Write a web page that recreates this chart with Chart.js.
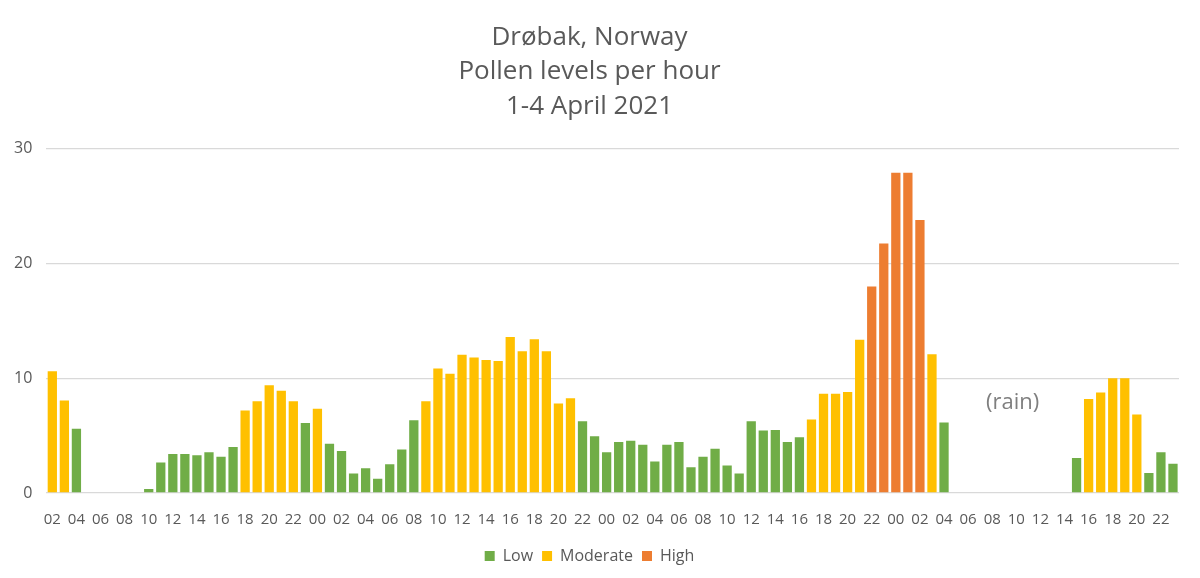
<!DOCTYPE html>
<html>
<head>
<meta charset="utf-8">
<script src="https://cdn.jsdelivr.net/npm/chart.js@4.4.1/dist/chart.umd.min.js"></script>
<style>
html,body{margin:0;padding:0;background:#fff}
#wrap{width:1200px;height:578px}
</style>
</head>
<body>
<div id="wrap"><canvas id="PollenChart" width="1200" height="578"></canvas></div>
<script>
// hour of day for each bar, 1 April 02:00 .. 4 April 23:00
let HOURS=[
'02','03','04','05','06','07','08','09','10','11','12','13','14','15','16','17','18','19','20','21','22','23',
'00','01','02','03','04','05','06','07','08','09','10','11','12','13','14','15','16','17','18','19','20','21','22','23',
'00','01','02','03','04','05','06','07','08','09','10','11','12','13','14','15','16','17','18','19','20','21','22','23',
'00','01','02','03','04','05','06','07','08','09','10','11','12','13','14','15','16','17','18','19','20','21','22','23'
]

// pollen count per hour
let POLLEN=[
10.6,8.05,5.6,0,0,0,0,0,0.35,2.65,3.4,3.4,3.3,3.55,3.15,4.0,7.2,8.0,9.4,8.9,8.0,6.1,
7.35,4.3,3.65,1.7,2.15,1.25,2.5,3.8,6.35,8.0,10.85,10.4,12.05,11.8,11.6,11.5,13.6,12.35,13.4,12.35,7.8,8.25,6.25,4.95,
3.55,4.45,4.55,4.2,2.75,4.2,4.45,2.25,3.15,3.85,2.4,1.7,6.25,5.45,5.5,4.45,4.85,6.4,8.65,8.65,8.8,13.35,18.0,21.75,
27.9,27.9,23.8,12.1,6.15,0,0,0,0,0,0,0,0,0,0,3.05,8.2,8.75,10.0,10.0,6.85,1.75,3.55,2.55
]

// level of each hour: L low, M moderate, H high, - nothing measured
let LEVEL=[
'M','M','L','-','-','-','-','-','L','L','L','L','L','L','L','L','M','M','M','M','M','L',
'M','L','L','L','L','L','L','L','L','M','M','M','M','M','M','M','M','M','M','M','M','M','L','L',
'L','L','L','L','L','L','L','L','L','L','L','L','L','L','L','L','L','M','M','M','M','M','H','H',
'H','H','H','M','L','-','-','-','-','-','-','-','-','-','-','L','M','M','M','M','M','L','L','L'
]

let SERIES=['Low','Moderate','High']
let SERIESCODE=['L','M','H']
let COLOURS=['#70AD47','#FFC000','#ED7D31']

let RAIN={text:'(rain)',at:79.7,value:7.9}

function Pick(code){
	return POLLEN.map((v,i)=>LEVEL[i]==code?v:null)
}

let rainLabelPlugin={
id:'rainLabel',
afterDatasetsDraw(chart){
	let c=chart.ctx
	let x=chart.scales.x.getPixelForValue(RAIN.at)
	let y=chart.scales.y.getPixelForValue(RAIN.value)
	c.save()
	c.font='22px "Open Sans"'
	c.fillStyle='#7F7F7F'
	c.textAlign='center'
	c.textBaseline='middle'
	c.fillText(RAIN.text,x,y)
	c.restore()
}
}

let PollenChart=new Chart(
document.getElementById('PollenChart'),
{
type:'bar',
data:{
labels:HOURS,
datasets:SERIES.map((s,k)=>({
label:s,
data:Pick(SERIESCODE[k]),
backgroundColor:COLOURS[k],
borderWidth:0,
barPercentage:0.77,
categoryPercentage:1
}))
},
options:{
responsive:false,
animation:false,
layout:{padding:{left:0,right:21,top:0,bottom:4}},
scales:{
x:{
stacked:true,
grid:{display:false},
border:{display:false},
ticks:{
autoSkip:false,maxRotation:0,minRotation:0,padding:10,
color:'#595959',font:{family:'Open Sans',size:15},
callback:function(v,i){return i%2==0?HOURS[i]:''}
}
},
y:{
stacked:true,
min:0,max:30,
border:{display:false},
grid:{color:'#D9D9D9',lineWidth:1.3,drawTicks:false},
ticks:{stepSize:10,padding:14,color:'#595959',font:{family:'Open Sans',size:16}}
}
},
plugins:{
title:{
display:true,
text:['Drøbak, Norway','Pollen levels per hour','1-4 April 2021'],
color:'#595959',
font:{family:'Open Sans',size:26,weight:'normal',lineHeight:1.33},
padding:{top:20,bottom:25}
},
legend:{
position:'bottom',
labels:{boxWidth:10,boxHeight:10,padding:9,color:'#595959',font:{family:'Open Sans',size:16}}
},
tooltip:{enabled:false}
}
},
plugins:[rainLabelPlugin]
}
)
</script>
</body>
</html>
